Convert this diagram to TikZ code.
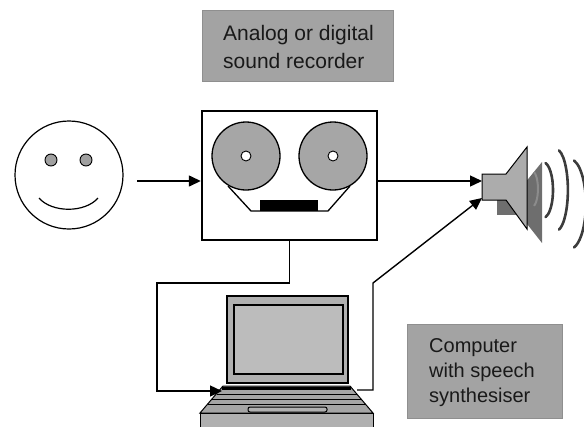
\documentclass[tikz,border=0pt]{standalone}
\usepackage{fontspec}
\setmainfont{Liberation Sans}
\usetikzlibrary{arrows.meta}
\definecolor{boxgray}{RGB}{163,163,163}
\definecolor{reelgray}{RGB}{166,166,166}
\definecolor{eyegray}{RGB}{160,160,160}
\definecolor{spklight}{RGB}{172,172,172}
\definecolor{spkdark}{RGB}{110,110,110}
\definecolor{framegray}{RGB}{176,176,176}
\definecolor{panelgray}{RGB}{188,188,188}
\definecolor{deckgray}{RGB}{165,165,165}
\definecolor{inkgray}{RGB}{60,60,60}
\begin{document}
\begin{tikzpicture}[x=1pt,y=-1pt,
  conn/.style={line width=1.4pt, -{Triangle[length=12pt,width=11pt]}},
  wire/.style={line width=1.4pt},
  labelbox/.style={fill=boxgray, draw=boxgray!88!black, line width=0.6pt},
  labeltext/.style={anchor=base west, inner sep=0pt, text=black!90},
  wave/.style={line width=2.6pt, draw=inkgray, line cap=round},
]
\useasboundingbox (0,0) rectangle (584,426);

% caption boxes
\node[labelbox, minimum width=191pt, minimum height=71pt, inner sep=0pt] (recLabel) at (297.5,45.5) {};
\node[labeltext, font=\fontsize{21}{28}\selectfont] (recLine1) at (223,40) {Analog or digital};
\node[labeltext, font=\fontsize{21}{28}\selectfont] (recLine2) at (223,68) {sound recorder};

\node[labelbox, minimum width=155pt, minimum height=94pt, inner sep=0pt] (pcLabel) at (484.5,371) {};
\node[labeltext, font=\fontsize{20}{25}\selectfont] (pcLine1) at (429,352) {Computer};
\node[labeltext, font=\fontsize{20}{25}\selectfont] (pcLine2) at (429,377) {with speech};
\node[labeltext, font=\fontsize{20}{25}\selectfont] (pcLine3) at (429,402) {synthesiser};

% the speaker (face)
\node[draw, circle, minimum size=108pt, line width=1.2pt, inner sep=0pt] (face) at (69,175) {};
\node[draw, circle, fill=eyegray, minimum size=12pt, inner sep=0pt, line width=0.9pt] (eyeL) at (51,160) {};
\node[draw, circle, fill=eyegray, minimum size=12pt, inner sep=0pt, line width=0.9pt] (eyeR) at (86,160) {};
\draw[line width=1.2pt] (39,198) .. controls (52,213) and (85,213) .. (98,198);

% tape recorder
\node[draw, line width=2.4pt, minimum width=175pt, minimum height=129pt, inner sep=0pt] (rec) at (289.5,175.5) {};
\node[draw, circle, fill=reelgray, minimum size=68pt, inner sep=0pt, line width=1.3pt] (reelL) at (246,156) {};
\node[draw, circle, fill=reelgray, minimum size=68pt, inner sep=0pt, line width=1.3pt] (reelR) at (333,156) {};
\node[draw, circle, fill=white, minimum size=10pt, inner sep=0pt, line width=0.9pt] (hubL) at (246,156) {};
\node[draw, circle, fill=white, minimum size=10pt, inner sep=0pt, line width=0.9pt] (hubR) at (333,156) {};
\draw[line width=1.3pt] (228,186) -- (251,211) -- (328,211) -- (350,186);
\fill (260,200) rectangle (318,211);

% loudspeaker with its shadow
\fill[spkdark] (497,189) rectangle (521,215);
\fill[spkdark] (520,189) -- (542,162) -- (542,243) -- (520,215) -- cycle;
\draw[line width=2pt, draw=black!45] (534,172) arc[start angle=70, end angle=-70, x radius=6pt, y radius=18pt];
\filldraw[fill=spklight, draw=black, line width=1pt]
  (482,174) -- (506,174) -- (527,147) -- (527,229) -- (506,200) -- (482,200) -- cycle;
\coordinate (spkTop) at (482,181);
\coordinate (spkLow) at (482,198);

% sound waves
\draw[wave] (545.6,163) arc[start angle=75, end angle=-75, x radius=10pt, y radius=28pt];
\draw[wave] (559,150.4) arc[start angle=75, end angle=-75, x radius=12pt, y radius=41pt];
\draw[wave] (574,160.5) arc[start angle=75, end angle=-75, x radius=16pt, y radius=45pt];

% laptop
\node[draw, fill=framegray, minimum width=121pt, minimum height=87pt, inner sep=0pt, line width=1.2pt] (screen) at (287.5,339.5) {};
\node[draw, fill=panelgray, minimum width=109pt, minimum height=69pt, inner sep=0pt, line width=1.2pt] (panel) at (288.5,339.5) {};
\filldraw[fill=deckgray, draw=black, line width=1pt] (223,386) -- (350,386) -- (373,413) -- (200,413) -- cycle;
\filldraw[fill=framegray, draw=black, line width=1pt] (200,413) rectangle (373,430);
\draw[line width=2.4pt] (222,388.5) -- (351,388.5);
\draw[line width=1.3pt] (216.5,394.5) -- (356.5,394.5);
\draw[line width=1.3pt] (212,399.5) -- (361,399.5);
\draw[line width=1.3pt] (207.5,404.5) -- (365.5,404.5);
\draw[line width=1pt, rounded corners=2pt, fill=framegray] (248,407) rectangle (327,412);
\coordinate (kbL) at (222,391);
\coordinate (kbR) at (357,390);

% connectors
\coordinate (faceOut) at (137,181);
\coordinate (bendL) at (157,283);
\coordinate (bendR) at (373,283);
\draw[conn] (faceOut) -- (faceOut -| rec.west);
\draw[conn] (rec.east |- spkTop) -- (spkTop);
\draw[conn] (rec.south) |- (bendL) |- (kbL);
\draw[conn] (kbR) -| (bendR) -- (spkLow);
\end{tikzpicture}
\end{document}
